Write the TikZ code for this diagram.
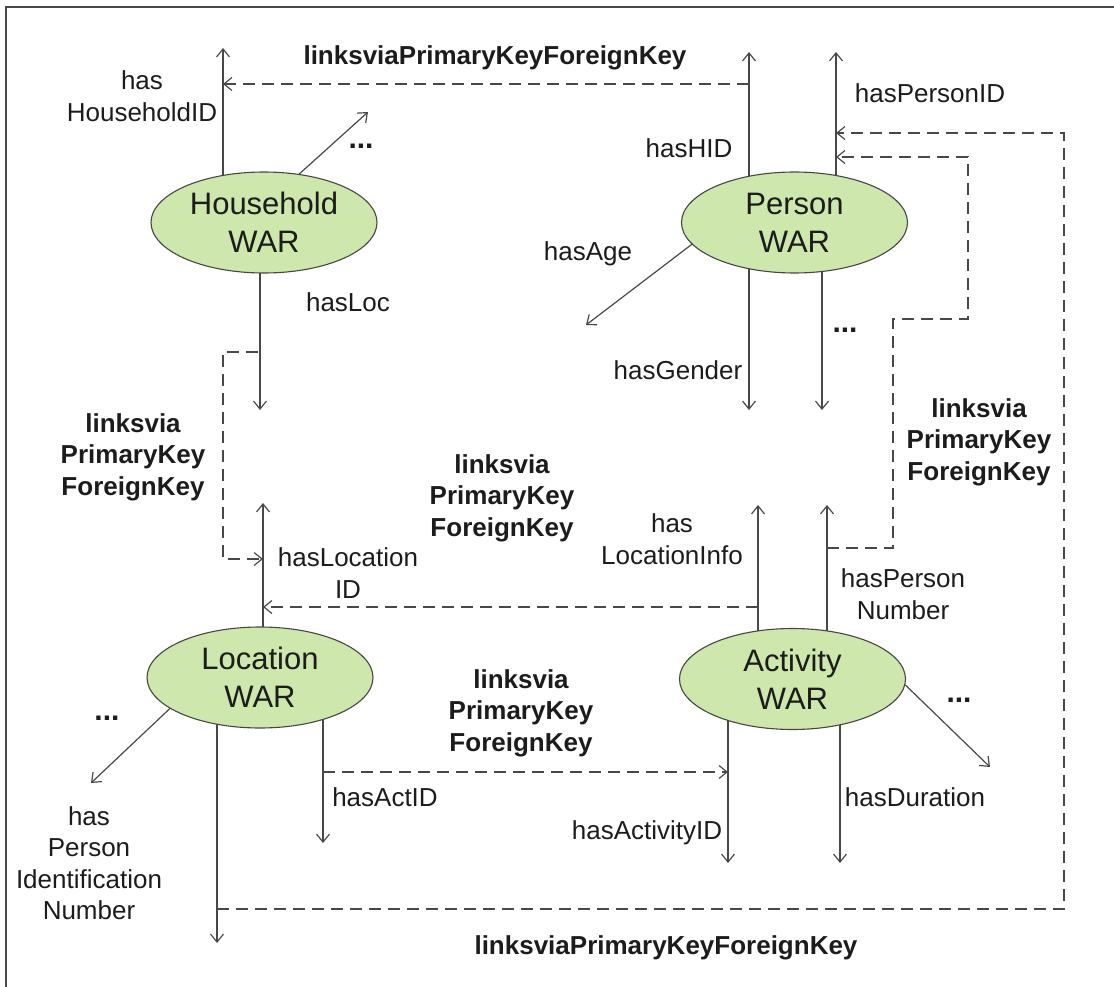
\documentclass[tikz,border=0pt]{standalone}
\usepackage{fontspec}
\setmainfont{Liberation Sans}
\usetikzlibrary{arrows.meta,shapes.geometric}
\pgfdeclarelayer{background}
\pgfsetlayers{background,main}

\definecolor{warfill}{RGB}{205,231,172}
\definecolor{warline}{RGB}{70,70,70}
\definecolor{linkline}{RGB}{72,72,72}
\definecolor{txt}{RGB}{28,28,28}

\tikzset{
  war/.style={ellipse, draw=warline, line width=1.1pt, fill=warfill,
    minimum width=226pt, minimum height=101pt, inner sep=0pt,
    align=center, font=\fontsize{31}{38}\selectfont, text=txt},
  barb/.tip={Straight Barb[length=8pt,width=13pt]},
  prop/.style={draw=linkline, line width=1.2pt, -barb},
  fk/.style={draw=linkline, line width=1.2pt, dash pattern=on 12pt off 7pt},
  fkarrow/.style={fk, -barb},
  lbl/.style={font=\fontsize{26}{31.5}\selectfont, text=txt, align=center, inner sep=0pt},
  keylbl/.style={lbl, font=\fontsize{26}{31.5}\selectfont\bfseries},
  more/.style={font=\fontsize{30}{30}\selectfont\bfseries, text=txt, inner sep=0pt},
}

\begin{document}
\begin{tikzpicture}[x=1pt, y=-1pt]
\useasboundingbox (0,0) rectangle (1114,987);

% frame (top and left edges)
\draw[draw=linkline, line width=1.5pt] (1114,7) -- (6,7) -- (6,987);

% the four WAR classes
\node[war] (hh)  at (264,222.5)  {Household\\WAR};
\node[war] (per) at (794.5,222.5) {Person\\WAR};
\node[war] (loc) at (260,677.5)  {Location\\WAR};
\node[war] (act) at (792.5,679)  {Activity\\WAR};

% free ends of the property arrows
\coordinate (hhIDtip)   at (223,48);
\coordinate (hhMoreTip) at (368,112);
\coordinate (hhLocTip)  at (260,410);
\coordinate (perHIDtip)    at (749,52);
\coordinate (perIDtip)     at (836,52);
\coordinate (perAgeTip)    at (586,325);
\coordinate (perGenderTip) at (749,410);
\coordinate (perMoreTip)   at (822,410);
\coordinate (locIDtip)   at (263,503);
\coordinate (locPINtip)  at (217,943);
\coordinate (locActTip)  at (323,843);
\coordinate (locMoreTip) at (91,783);
\coordinate (actLocTip)  at (758,505);
\coordinate (actPNtip)   at (827,505);
\coordinate (actIDtip)   at (728,863);
\coordinate (actDurTip)  at (840,863);
\coordinate (actMoreTip) at (990,767);

% property arrows, drawn behind the ellipses
\begin{pgfonlayer}{background}
  \draw[prop] (hh.center -| hhIDtip) -- (hhIDtip);
  \draw[prop] (hh.54) -- (hhMoreTip);
  \draw[prop] (hh.center -| hhLocTip) -- (hhLocTip);

  \draw[prop] (per.center -| perHIDtip) -- (perHIDtip);
  \draw[prop] (per.center -| perIDtip) -- (perIDtip);
  \draw[prop] (per.192) -- (perAgeTip);
  \draw[prop] (per.center -| perGenderTip) -- (perGenderTip);
  \draw[prop] (per.center -| perMoreTip) -- (perMoreTip);

  \draw[prop] (loc.center -| locIDtip) -- (locIDtip);
  \draw[prop] (loc.center -| locPINtip) -- (locPINtip);
  \draw[prop] (loc.center -| locActTip) -- (locActTip);
  \draw[prop] (loc.199) -- (locMoreTip);

  \draw[prop] (act.center -| actLocTip) -- (actLocTip);
  \draw[prop] (act.center -| actPNtip) -- (actPNtip);
  \draw[prop] (act.center -| actIDtip) -- (actIDtip);
  \draw[prop] (act.center -| actDurTip) -- (actDurTip);
  \draw[prop] (act.-3) -- (actMoreTip);
\end{pgfonlayer}

% primary key / foreign key links
\coordinate (hidFrom) at (749,84);
\coordinate (hidTo)   at (223,84);
\draw[fkarrow] (hidFrom) -- (hidTo);

\coordinate (locFrom)   at (258,352);
\coordinate (locCorner) at (223,559);
\coordinate (locTo)     at (263,559);
\draw[fkarrow] (locFrom) -| (locCorner) -- (locTo);

\coordinate (liFrom) at (758,607);
\coordinate (liTo)   at (263,607);
\draw[fkarrow] (liFrom) -- (liTo);

\coordinate (actFrom) at (323,772);
\coordinate (actTo)   at (728,772);
\draw[fkarrow] (actFrom) -- (actTo);

\coordinate (pnFrom) at (827,548);
\coordinate (pnStep) at (893,319);
\coordinate (pnUp)   at (968,157);
\coordinate (pnTo)   at (836,157);
\draw[fkarrow] (pnFrom) -| (pnStep) -| (pnUp) -- (pnTo);

\coordinate (pinFrom) at (217,909);
\coordinate (pinUp)   at (1064,133);
\coordinate (pinTo)   at (836,133);
\draw[fkarrow] (pinFrom) -| (pinUp) -- (pinTo);

% link labels
\node[keylbl] (kTop)    at (495,58)  {linksviaPrimaryKeyForeignKey};
\node[keylbl] (kLeft)   at (133,457) {linksvia\\PrimaryKey\\ForeignKey};
\node[keylbl] (kMid)    at (502,498) {linksvia\\PrimaryKey\\ForeignKey};
\node[keylbl] (kRight)  at (979,442) {linksvia\\PrimaryKey\\ForeignKey};
\node[keylbl] (kLow)    at (521,713) {linksvia\\PrimaryKey\\ForeignKey};
\node[keylbl] (kBottom) at (666,948) {linksviaPrimaryKeyForeignKey};

% property labels
\node[lbl] (lHHID)   at (142,96)  {has\\HouseholdID};
\node[lbl] (lHID)    at (689,148) {hasHID};
\node[lbl] (lPID)    at (930,93)  {hasPersonID};
\node[lbl] (lAge)    at (588,254) {hasAge};
\node[lbl] (lLoc)    at (348,302) {hasLoc};
\node[lbl] (lGender) at (678,370) {hasGender};
\node[lbl] (lLocInfo) at (672,539) {has\\LocationInfo};
\node[lbl] (lLocID)  at (348,573) {hasLocation\\ID};
\node[lbl] (lPN)     at (903,594) {hasPerson\\Number};
\node[lbl] (lActID)  at (385,797) {hasActID};
\node[lbl] (lDur)    at (915,797) {hasDuration};
\node[lbl] (lActivityID) at (647,833) {hasActivityID};
\node[lbl] (lPIN)    at (89,863)  {has\\Person\\Identification\\Number};

% elided properties
\node[more] (mHH)  at (361,146) {...};
\node[more] (mPer) at (845,330) {...};
\node[more] (mLoc) at (107,718) {...};
\node[more] (mAct) at (959,700) {...};
\end{tikzpicture}
\end{document}
